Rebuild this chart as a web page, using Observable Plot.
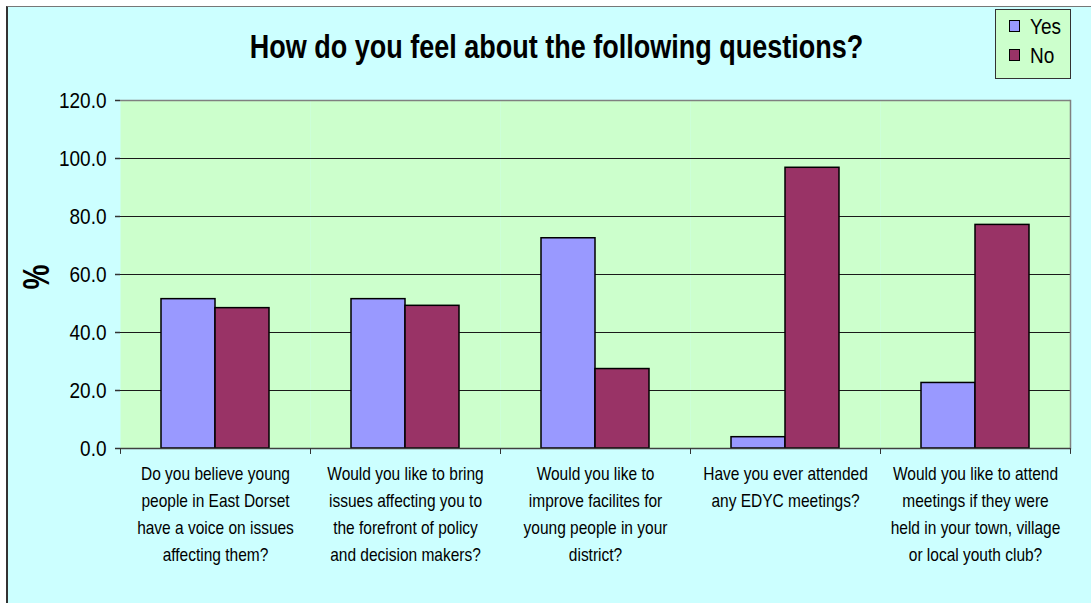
<!DOCTYPE html>
<html>
<head>
<meta charset="utf-8">
<script src="https://cdn.jsdelivr.net/npm/d3@7"></script>
<script src="https://cdn.jsdelivr.net/npm/@observablehq/plot@0.6"></script>
<style>
  html, body { margin: 0; padding: 0; background: #ffffff; }
  body { width: 1091px; height: 603px; position: relative; overflow: hidden; font-family: "Liberation Sans", Arial, sans-serif; }
  #bg { position: absolute; left: 6px; top: 6px; width: 1100px; height: 610px; background: #CCFFFF; border-left: 2px solid #333; border-top: 1px solid #777; }
  #chart { position: absolute; left: 0; top: 0; }
  #title { position: absolute; left: 0; top: 34px; width: 1113px; text-align: center; font-weight: bold; font-size: 27px; line-height: 1; color: #000; white-space: nowrap; transform: scaleY(1.2); transform-origin: 50% 50%; }
  #ylabel { position: absolute; left: 37px; top: 277px; transform: translate(-50%, -50%) rotate(-90deg) scaleY(1.3); font-weight: bold; font-size: 28px; line-height: 1; color: #000; }
  #legend { position: absolute; left: 995px; top: 9px; width: 76px; height: 70px; box-sizing: border-box; background: #CCFFCC; border: 1px solid #333; }
  .item { position: absolute; left: 13px; height: 24px; display: flex; align-items: center; font-size: 19px; line-height: 1; }
  .item .txt { display: inline-block; transform: scaleY(1.15); }
  .sw { width: 9px; height: 10px; border: 1px solid #000; margin-right: 10px; }
</style>
</head>
<body>
<div id="bg"></div>
<div id="chart"></div>
<div id="title"></div>
<div id="ylabel"></div>
<div id="legend"></div>
<script>
// ---- data ----
const questions = [
  "Do you believe young\npeople in East Dorset\nhave a voice on issues\naffecting them?",
  "Would you like to bring\nissues affecting you to\nthe forefront of policy\nand decision makers?",
  "Would you like to\nimprove facilites for\nyoung people in your\ndistrict?",
  "Have you ever attended\nany EDYC meetings?",
  "Would you like to attend\nmeetings if they were\nheld in your town, village\nor local youth club?"
];
const seriesNames = ["Yes", "No"];
const yesValues = [51.5, 51.5, 72.5, 3.9, 22.6];
const noValues = [48.4, 49.2, 27.4, 96.8, 77.1];
const yTicks = [0, 20, 40, 60, 80, 100, 120];
const seriesColors = ["#9999FF", "#993366"];
const titleText = "How do you feel about the following questions?";
const yLabelText = "%";

// ---- build table ----
const rows = questions.flatMap((q, i) => [
  {q, s: seriesNames[0], v: yesValues[i]},
  {q, s: seriesNames[1], v: noValues[i]}
]);

const tickShape = {draw(context, l) { context.moveTo(0, 0); context.lineTo(0, -l); }};
const font = "'Liberation Sans', Arial, sans-serif";

const chart = Plot.plot({
  width: 1091,
  height: 603,
  marginLeft: 118,
  marginRight: 20,
  marginTop: 100,
  marginBottom: 155,
  style: {background: "transparent", fontFamily: font, color: "#000", overflow: "visible"},
  fx: {domain: questions, padding: 0, label: null},
  x: {domain: seriesNames, paddingInner: 0, paddingOuter: 0.75, axis: null},
  y: {domain: [0, 120], label: null},
  color: {domain: seriesNames, range: seriesColors},
  marks: [
    Plot.frame({fill: "#CCFFCC", stroke: null}),
    Plot.ruleY(yTicks.filter(d => d > 0 && d < 120), {stroke: "#1a1a1a", strokeWidth: 1}),
    Plot.ruleY([120], {stroke: "#808080", strokeWidth: 1.5}),
    Plot.frame({facet: "super", anchor: "right", stroke: "#808080", strokeWidth: 1.5}),
    Plot.barY(rows, {fx: "q", x: "s", y: "v", fill: "s", stroke: "#000", strokeWidth: 1.5}),
    Plot.ruleY([0], {stroke: "#404040", strokeWidth: 1.5}),
    Plot.axisY({ticks: yTicks, tickFormat: d => d.toFixed(1), tickSize: 5, tickPadding: 9, fontSize: 19, label: null, line: true, stroke: "#333", strokeWidth: 1.5, color: "#000"}),
    Plot.axisFx({anchor: "bottom", tickSize: 0, tickPadding: 12, fontSize: 15.5, lineHeight: 1.45, label: null, tickFormat: d => d}),
    Plot.vector([0], {frameAnchor: "bottom-left", length: 5, rotate: 180, anchor: "start", shape: tickShape, stroke: "#333", strokeWidth: 1}),
    Plot.vector([0], {frameAnchor: "bottom-right", length: 5, rotate: 180, anchor: "start", shape: tickShape, stroke: "#333", strokeWidth: 1})
  ]
});
document.getElementById("chart").appendChild(chart);

// the reference's lettering is drawn tall and narrow: stretch the axis text vertically
chart.querySelectorAll('g[aria-label="y-axis tick label"] text, g[aria-label="fx-axis tick label"] text').forEach(t => {
  const x = +t.getAttribute("x") || 0, y = +t.getAttribute("y") || 0;
  const base = t.getAttribute("transform") || "";
  t.setAttribute("transform", `${base} translate(${x},${y}) scale(1,1.2) translate(${-x},${-y})`);
});

document.getElementById("title").textContent = titleText;
document.getElementById("ylabel").textContent = yLabelText;

const legend = document.getElementById("legend");
const legendTops = [16, 45];
seriesNames.forEach((name, i) => {
  const item = document.createElement("div");
  item.className = "item";
  item.style.top = (legendTops[i] - 12) + "px";
  const sw = document.createElement("span");
  sw.className = "sw";
  sw.style.background = seriesColors[i];
  const label = document.createElement("span");
  label.className = "txt";
  label.textContent = name;
  item.appendChild(sw);
  item.appendChild(label);
  legend.appendChild(item);
});
</script>
</body>
</html>
